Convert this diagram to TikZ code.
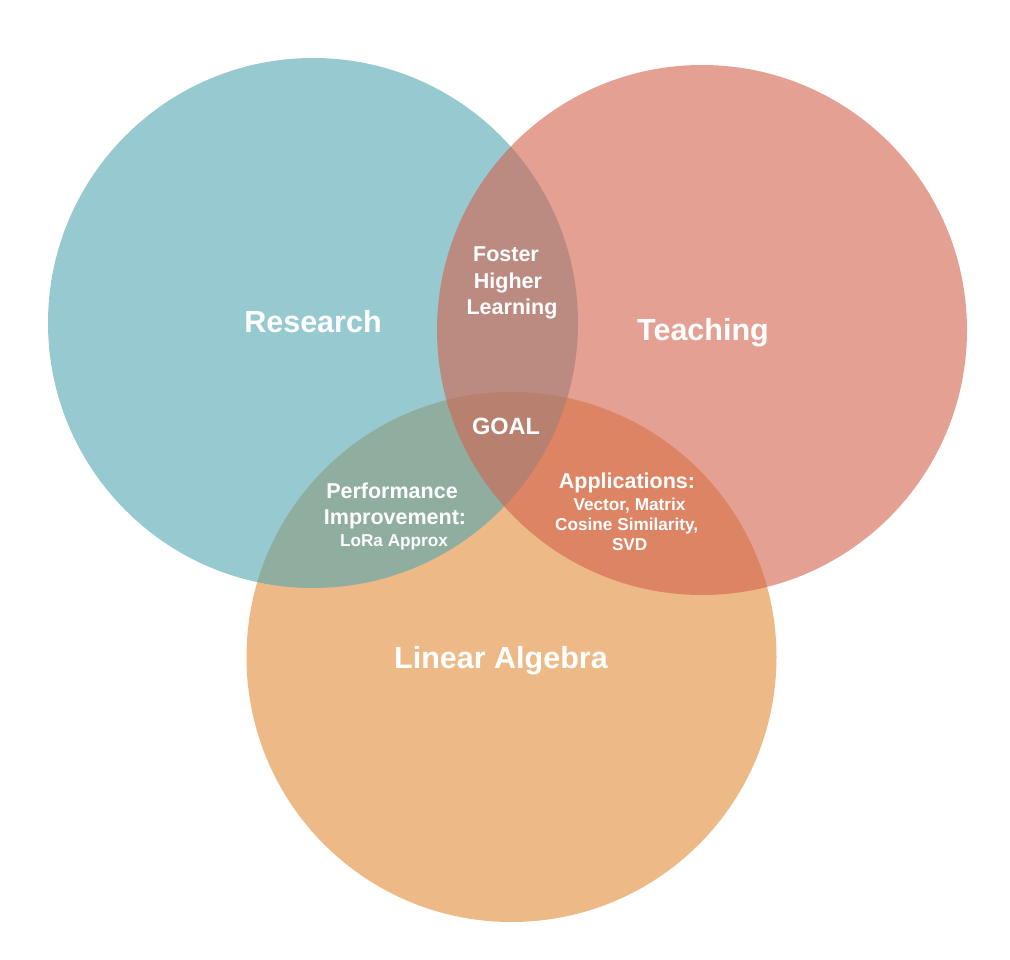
\documentclass[tikz,border=0pt]{standalone}
\usepackage{fontspec}
\setmainfont{Liberation Sans}
\definecolor{tealraw}{RGB}{82,167,177}
\definecolor{salmonraw}{RGB}{212,97,77}
\definecolor{orangeraw}{RGB}{225,140,55}
\begin{document}
\begin{tikzpicture}[x=1pt,y=-1pt,
  venn/.style={circle, minimum size=530pt, inner sep=0pt, draw=none, fill opacity=0.6},
  lbl/.style={anchor=base, inner sep=0pt, text=white},
  big/.style={lbl, font=\bfseries\fontsize{30.5}{34}\selectfont},
  mid/.style={lbl, font=\bfseries\fontsize{21.5}{26}\selectfont},
  goal/.style={lbl, font=\bfseries\fontsize{23.5}{28}\selectfont},
  sml/.style={lbl, font=\bfseries\fontsize{17.2}{20}\selectfont}]
\useasboundingbox (0,0) rectangle (1010,960);
% circles: bottom to top
\node[venn, fill=orangeraw] (linalg) at (511.5,657) {};
\node[venn, fill=tealraw] (research) at (313,323) {};
\node[venn, fill=salmonraw] (teaching) at (702,330) {};
% main labels
\node[big] (lresearch) at (313,332) {Research};
\node[big] (lteaching) at (703,341) {Teaching};
\node[big] (llinalg) at (501,668) {Linear Algebra};
% research & teaching
\node[mid] (foster) at (506,262) {Foster};
\node[mid] (higher) at (508,288) {Higher};
\node[mid] (learning) at (512,314) {Learning};
% center
\node[goal] (goal) at (506,434) {GOAL};
% research & linear algebra
\node[mid] (perf) at (392,498) {Performance};
\node[mid] (impr) at (395,524) {Improvement:};
\node[sml] (lora) at (394,546) {LoRa Approx};
% teaching & linear algebra
\node[mid] (appl) at (627,488) {Applications:};
\node[sml] (vecmat) at (629.5,510) {Vector, Matrix};
\node[sml] (cosine) at (626.7,530) {Cosine Similarity,};
\node[sml] (svd) at (629.7,550) {SVD};
\end{tikzpicture}
\end{document}
